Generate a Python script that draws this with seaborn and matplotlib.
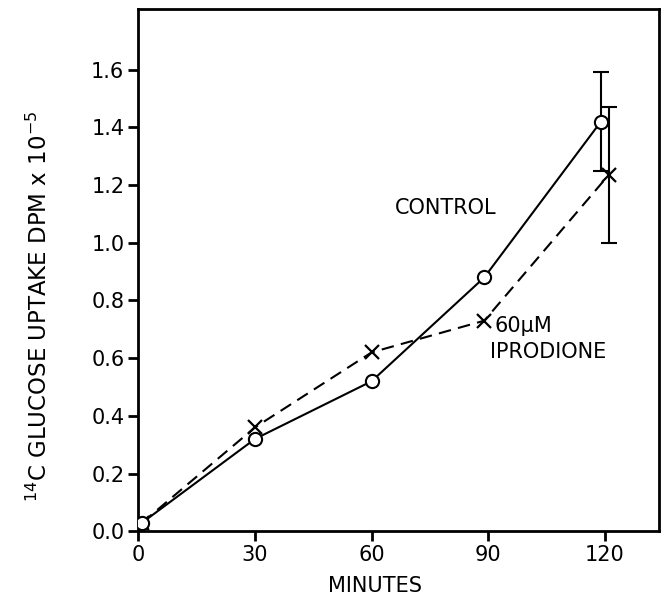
import numpy as np
import pandas as pd
import matplotlib
matplotlib.use("Agg")
import matplotlib.pyplot as plt
import seaborn as sns

# values
control_minutes = [1, 30, 60, 89, 119]
control_uptake = [0.03, 0.32, 0.52, 0.88, 1.42]
iprodione_minutes = [1, 30, 60, 89, 121]
iprodione_uptake = [0.03, 0.36, 0.62, 0.73, 1.235]
control_err_120 = 0.17
iprodione_err_120 = 0.235

x_ticks = [0, 30, 60, 90, 120]
y_ticks = [0.0, 0.2, 0.4, 0.6, 0.8, 1.0, 1.2, 1.4, 1.6]

df = pd.concat([
    pd.DataFrame({"minutes": control_minutes, "uptake": control_uptake, "group": "CONTROL"}),
    pd.DataFrame({"minutes": iprodione_minutes, "uptake": iprodione_uptake, "group": "60µM IPRODIONE"}),
])

sns.set_style("ticks")
plt.rcParams["font.family"] = ["DejaVu Sans"]
plt.rcParams.update({"text.color": "black", "axes.labelcolor": "black",
                     "xtick.color": "black", "ytick.color": "black"})

fig = plt.figure(figsize=(6.68, 5.97), dpi=100)
ax = fig.add_axes([0.207, 0.11, 0.78, 0.875])

ctrl = df[df["group"] == "CONTROL"]
ipro = df[df["group"] != "CONTROL"]

sns.lineplot(data=ipro, x="minutes", y="uptake", ax=ax, color="black",
             linewidth=1.5, linestyle=(0, (6, 3.5)), marker="x", markersize=10,
             markeredgewidth=1.6, markeredgecolor="black", legend=False, zorder=3)
sns.lineplot(data=ctrl, x="minutes", y="uptake", ax=ax, color="black",
             linewidth=1.5, marker="o", markersize=9.5, markerfacecolor="white",
             markeredgecolor="black", markeredgewidth=1.5, legend=False, zorder=4)

# error bars at 120 min
ax.errorbar(control_minutes[-1], control_uptake[-1], yerr=control_err_120,
            fmt="none", ecolor="black", elinewidth=1.5, capsize=6, capthick=1.5, zorder=2)
ax.errorbar(iprodione_minutes[-1], iprodione_uptake[-1], yerr=iprodione_err_120,
            fmt="none", ecolor="black", elinewidth=1.5, capsize=6, capthick=1.5, zorder=2)

ax.text(66, 1.12, "CONTROL", fontsize=15, va="center", ha="left")
ax.text(91.5, 0.71, "60µM", fontsize=15, va="center", ha="left")
ax.text(90.5, 0.62, "IPRODIONE", fontsize=15, va="center", ha="left")

ax.set_xlim(0, 134)
ax.set_ylim(0, 1.81)
ax.set_xticks(x_ticks)
ax.set_yticks(y_ticks)
ax.set_yticklabels([f"{v:.1f}" for v in y_ticks])
ax.tick_params(axis="both", labelsize=15, width=2, length=7, pad=3, direction="out")

for side in ["left", "right", "top", "bottom"]:
    ax.spines[side].set_visible(True)
    ax.spines[side].set_linewidth(2)
    ax.spines[side].set_color("black")

ax.set_xlabel("MINUTES", fontsize=15)
ax.set_ylabel("$^{14}$C GLUCOSE UPTAKE DPM x 10$^{-5}$", fontsize=16.5)
ax.xaxis.set_label_coords(0.455, -0.085)
ax.yaxis.set_label_coords(-0.165, 0.43)

fig.savefig("out.png", dpi=100)
